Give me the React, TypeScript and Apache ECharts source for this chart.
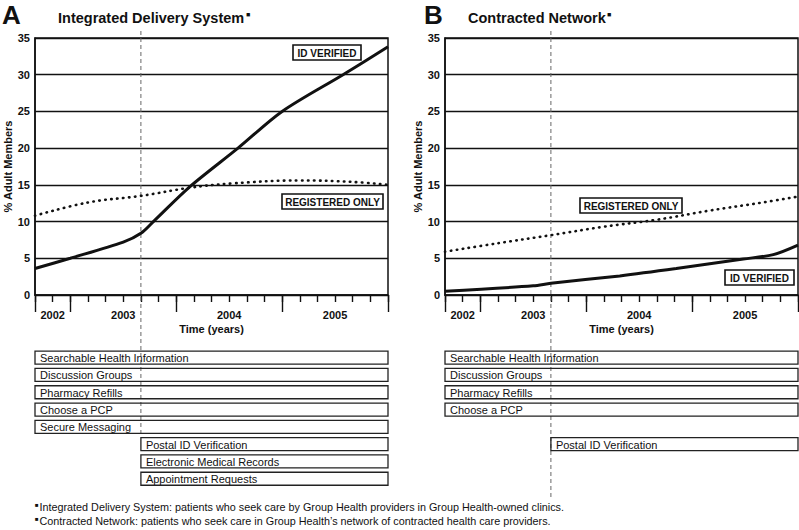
import React, { useEffect, useRef } from "react";
import * as echarts from "echarts";

// ---------- data ----------
// x values are months counted from Sept 2002 (0) to Dec 2005 (40)
const monthCategories = Array.from({ length: 41 }, (_, i) => String(i));
const yearLabels = ["2002", "2003", "2004", "2005"];
const yearLabelMonths = [2, 10, 22, 34];
const majorTickMonths = [0, 4, 16, 28, 40];
const launchMonth = 12;

const aIdMonths = [0, 4, 10, 12, 13.5, 17.5, 23, 28, 34.9, 40];
const aIdValues = [3.6, 5.0, 7.2, 8.4, 10.1, 14.7, 20.0, 25.0, 30.0, 33.8];
const aRegMonths = [0, 6, 12, 17.5, 22.4, 30, 36, 40];
const aRegValues = [10.8, 12.6, 13.5, 14.6, 15.2, 15.6, 15.4, 15.0];

const bIdMonths = [0, 10, 12, 19.8, 26.2, 33.8, 37.2, 40];
const bIdValues = [0.5, 1.25, 1.6, 2.6, 3.6, 4.9, 5.5, 6.8];
const bRegMonths = [0, 6, 12, 18, 24, 30, 36, 40];
const bRegValues = [5.9, 7.05, 8.15, 9.3, 10.25, 11.5, 12.6, 13.4];

const rowSlots = ["0", "1", "2", "3", "4", "5", "6", "7"];
const aFeatures = [
  "Searchable Health Information",
  "Discussion Groups",
  "Pharmacy Refills",
  "Choose a PCP",
  "Secure Messaging",
  "Postal ID Verification",
  "Electronic Medical Records",
  "Appointment Requests",
];
const aFeatureRows = [0, 1, 2, 3, 4, 5, 6, 7];
const aFeatureStart = [0, 0, 0, 0, 0, 12, 12, 12];
const bFeatures = [
  "Searchable Health Information",
  "Discussion Groups",
  "Pharmacy Refills",
  "Choose a PCP",
  "Postal ID Verification",
];
const bFeatureRows = [0, 1, 2, 3, 5];
const bFeatureStart = [0, 0, 0, 0, 12];
const featureEnd = 40;

const titleA = "Integrated Delivery System";
const titleB = "Contracted Network";
const footnote1 =
  "Integrated Delivery System: patients who seek care by Group Health providers in Group Health-owned clinics.";
const footnote2 =
  "Contracted Network: patients who seek care in Group Health\u2019s network of contracted health care providers.";

// ---------- style ----------
const FONT = "'Liberation Sans', Arial, Helvetica, sans-serif";
const INK = "#111";

const zip = (xs: number[], ys: number[]) => xs.map((x, i) => [x, ys[i]]);

function makeFeatureSeries(
  names: string[],
  rows: number[],
  starts: number[],
  xAxisIndex: number,
  yAxisIndex: number
) {
  return {
    type: "custom",
    xAxisIndex,
    yAxisIndex,
    clip: false,
    data: names.map((_, i) => [starts[i], featureEnd, rows[i]]),
    renderItem: (params: any, api: any) => {
      const s = api.coord([api.value(0), api.value(2)]);
      const e = api.coord([api.value(1), api.value(2)]);
      const h = 13;
      return {
        type: "group",
        children: [
          {
            type: "rect",
            shape: { x: s[0], y: s[1] - h / 2, width: e[0] - s[0], height: h },
            style: { fill: "rgba(0,0,0,0)", stroke: "#222", lineWidth: 1.3 },
          },
          {
            type: "text",
            x: s[0] + 5,
            y: s[1] + 0.5,
            style: {
              text: names[params.dataIndex],
              fontSize: 11,
              fontFamily: FONT,
              fill: INK,
              align: "left",
              verticalAlign: "middle",
            },
          },
        ],
      };
    },
  };
}

function minorXAxis(gridIndex: number) {
  return {
    type: "value",
    gridIndex,
    position: "bottom",
    min: 0,
    max: 40,
    interval: 2,
    axisLine: { show: true, lineStyle: { color: INK, width: 1.5 } },
    axisTick: { show: true, length: 7, lineStyle: { color: INK, width: 1.4 } },
    axisLabel: { show: false },
    splitLine: { show: false },
  };
}

function majorXAxis(gridIndex: number) {
  return {
    type: "category",
    gridIndex,
    position: "bottom",
    data: monthCategories,
    boundaryGap: false,
    name: "Time (years)",
    nameLocation: "middle",
    nameGap: 28,
    nameTextStyle: { fontFamily: FONT, fontSize: 11, fontWeight: "bold", color: INK },
    axisLine: { show: false },
    axisTick: {
      show: true,
      length: 17,
      interval: (index: number) => majorTickMonths.includes(index),
      lineStyle: { color: INK, width: 1.4 },
    },
    axisLabel: {
      show: true,
      interval: (index: number) => yearLabelMonths.includes(index),
      formatter: (_v: string, index: number) => {
        const k = yearLabelMonths.indexOf(index);
        return k >= 0 ? yearLabels[k] : "";
      },
      margin: 14,
      fontFamily: FONT,
      fontSize: 11,
      fontWeight: "bold",
      color: INK,
    },
    splitLine: { show: false },
  };
}

function valueYAxis(gridIndex: number) {
  return {
    type: "value",
    gridIndex,
    min: 0,
    max: 35,
    interval: 5,
    name: "% Adult Members",
    nameLocation: "middle",
    nameGap: 22,
    nameTextStyle: { fontFamily: FONT, fontSize: 11, fontWeight: "bold", color: INK },
    axisLine: { show: true, lineStyle: { color: INK, width: 1.5 } },
    axisTick: { show: false },
    axisLabel: {
      margin: 5,
      fontFamily: FONT,
      fontSize: 11,
      fontWeight: "bold",
      color: INK,
    },
    splitLine: { show: true, lineStyle: { color: INK, width: 1.4 } },
  };
}

function timelineXAxis(gridIndex: number) {
  return {
    type: "value",
    gridIndex,
    min: 0,
    max: 40,
    show: false,
  };
}

function timelineYAxis(gridIndex: number) {
  return {
    type: "category",
    gridIndex,
    data: rowSlots,
    inverse: true,
    show: false,
  };
}

const solidLine = { color: INK, width: 3 };
const dottedLine = { color: INK, width: 2.6, type: [0.5, 5.5], cap: "round" };

function labelBox(x: number, y: number, w: number, h: number, text: string) {
  return {
    type: "group",
    children: [
      {
        type: "rect",
        shape: { x, y, width: w, height: h },
        style: { fill: "#fff", stroke: INK, lineWidth: 1.6 },
        z: 10,
      },
      {
        type: "text",
        x: x + w / 2,
        y: y + h / 2 + 0.5,
        z: 11,
        style: {
          text,
          fontFamily: FONT,
          fontSize: 10,
          fontWeight: "bold",
          fill: INK,
          align: "center",
          verticalAlign: "middle",
        },
      },
    ],
  };
}

function textEl(
  x: number,
  y: number,
  text: string,
  fontSize: number,
  fontWeight: string = "normal",
  extra: any = {}
) {
  return {
    type: "text",
    x,
    y,
    style: {
      text,
      fontFamily: FONT,
      fontSize,
      fontWeight,
      fill: INK,
      align: "left",
      verticalAlign: "middle",
      ...extra,
    },
  };
}

export default function App() {
  const ref = useRef<HTMLDivElement>(null);

  useEffect(() => {
    if (!ref.current) return;
    const chart = echarts.init(ref.current, null, { renderer: "svg" });

    const option: any = {
      animation: false,
      backgroundColor: "#fff",
      grid: [
        { left: 35, top: 38, width: 353, height: 257, show: true, borderColor: INK, borderWidth: 1.5, backgroundColor: "transparent" },
        { left: 445, top: 38, width: 353, height: 257, show: true, borderColor: INK, borderWidth: 1.5, backgroundColor: "transparent" },
        { left: 35, top: 349, width: 353, height: 138.4 },
        { left: 445, top: 349, width: 353, height: 138.4 },
      ],
      xAxis: [
        minorXAxis(0),
        majorXAxis(0),
        minorXAxis(1),
        majorXAxis(1),
        timelineXAxis(2),
        timelineXAxis(3),
      ],
      yAxis: [valueYAxis(0), valueYAxis(1), timelineYAxis(2), timelineYAxis(3)],
      series: [
        {
          name: "A ID verified",
          type: "line",
          xAxisIndex: 0,
          yAxisIndex: 0,
          data: zip(aIdMonths, aIdValues),
          showSymbol: false,
          smooth: 0.3,
          lineStyle: solidLine,
          z: 5,
        },
        {
          name: "A registered only",
          type: "line",
          xAxisIndex: 0,
          yAxisIndex: 0,
          data: zip(aRegMonths, aRegValues),
          showSymbol: false,
          smooth: 0.4,
          lineStyle: dottedLine,
          z: 5,
        },
        {
          name: "B ID verified",
          type: "line",
          xAxisIndex: 2,
          yAxisIndex: 1,
          data: zip(bIdMonths, bIdValues),
          showSymbol: false,
          smooth: 0.3,
          lineStyle: solidLine,
          z: 5,
        },
        {
          name: "B registered only",
          type: "line",
          xAxisIndex: 2,
          yAxisIndex: 1,
          data: zip(bRegMonths, bRegValues),
          showSymbol: false,
          smooth: 0.4,
          lineStyle: dottedLine,
          z: 5,
        },
        makeFeatureSeries(aFeatures, aFeatureRows, aFeatureStart, 4, 2),
        makeFeatureSeries(bFeatures, bFeatureRows, bFeatureStart, 5, 3),
      ],
    };

    chart.setOption(option);

    const xa = chart.convertToPixel({ xAxisIndex: 0 } as any, launchMonth) as number;
    const xb = chart.convertToPixel({ xAxisIndex: 2 } as any, launchMonth) as number;
    const dashStyle = { stroke: "#666", lineWidth: 1, lineDash: [4, 3] };

    chart.setOption({
      graphic: [
        { type: "line", shape: { x1: xa, y1: 31, x2: xa, y2: 437 }, style: dashStyle, z: 1 },
        { type: "line", shape: { x1: xb, y1: 31, x2: xb, y2: 497 }, style: dashStyle, z: 1 },
        // panel letters and titles
        textEl(2, 15, "A", 26, "bold"),
        textEl(58, 18, titleA, 14.5, "bold"),
        textEl(246, 14, "\u25A0", 7, "bold"),
        textEl(424, 15, "B", 26, "bold"),
        textEl(468, 18, titleB, 14.5, "bold"),
        textEl(607, 14, "\u25A0", 7, "bold"),
        // line labels
        labelBox(293, 45, 68, 15, "ID VERIFIED"),
        labelBox(282, 194, 101, 15, "REGISTERED ONLY"),
        labelBox(580, 198, 102, 15, "REGISTERED ONLY"),
        labelBox(725, 270, 69, 15, "ID VERIFIED"),
        // footnotes
        textEl(35, 505, "\u25A0", 6),
        textEl(39.5, 507, footnote1, 10.8),
        textEl(35, 519, "\u25A0", 6),
        textEl(39.5, 521, footnote2, 10.8),
      ],
    });

    return () => chart.dispose();
  }, []);

  return (
    <div
      ref={ref}
      style={{ position: "fixed", left: 0, top: 0, width: 799, height: 530, background: "#fff" }}
    />
  );
}
